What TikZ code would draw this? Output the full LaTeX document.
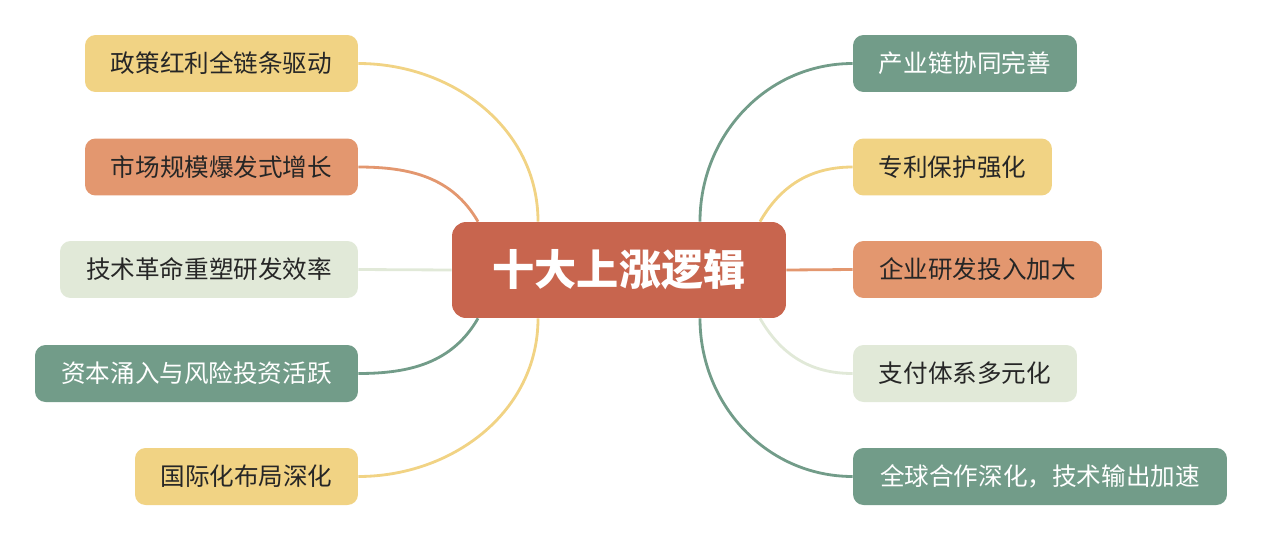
\documentclass[tikz,border=0pt]{standalone}
\usepackage{fontspec}
\setmainfont{Noto Sans CJK SC}
\definecolor{cyel}{HTML}{F1D384}
\definecolor{corg}{HTML}{E3976F}
\definecolor{cgrn}{HTML}{E1E9D8}
\definecolor{cteal}{HTML}{729C89}
\definecolor{cred}{HTML}{C8654E}
\tikzset{
  topic/.style={rounded corners=6pt,minimum height=1.14cm,font=\fontsize{14}{16}\selectfont,text=black!85,inner xsep=0pt},
  link/.style={line width=1.6pt}
}
\begin{document}
\begin{tikzpicture}[x=0.02cm,y=-0.02cm]
\useasboundingbox (0,0) rectangle (1263,541);

\node[fill=cred,rounded corners=8pt,minimum width=6.68cm,minimum height=1.92cm,
  text=white,font=\fontsize{24}{28}\selectfont\bfseries] (c) at (619,270) {十大上涨逻辑};

% left side
\node[topic,fill=cyel,minimum width=5.46cm] (l1) at (221.5,63.5) {政策红利全链条驱动};
\node[topic,fill=corg,minimum width=5.46cm] (l2) at (221.5,167) {市场规模爆发式增长};
\node[topic,fill=cgrn,minimum width=5.96cm] (l3) at (209,269.5) {技术革命重塑研发效率};
\node[topic,fill=cteal,minimum width=6.46cm,text=white] (l4) at (196.5,373.5) {资本涌入与风险投资活跃};
\node[topic,fill=cyel,minimum width=4.46cm] (l5) at (246.5,476.5) {国际化布局深化};

% right side
\node[topic,fill=cteal,minimum width=4.48cm,text=white] (r1) at (965,63.5) {产业链协同完善};
\node[topic,fill=cyel,minimum width=3.98cm] (r2) at (952.5,167) {专利保护强化};
\node[topic,fill=corg,minimum width=4.98cm] (r3) at (977.5,269.5) {企业研发投入加大};
\node[topic,fill=cgrn,minimum width=4.48cm] (r4) at (965,373.5) {支付体系多元化};
\node[topic,fill=cteal,minimum width=7.48cm,text=white] (r5) at (1040,476.5) {全球合作深化，技术输出加速};

\draw[link,cyel] (l1.east) to[out=0,in=90] ([xshift=-1.62cm]c.north);
\draw[link,corg] (l2.east) to[out=0,in=120] ([xshift=-2.82cm]c.north);
\draw[link,cgrn] (l3.east) -- (c.west);
\draw[link,cteal] (l4.east) to[out=0,in=-120] ([xshift=-2.82cm]c.south);
\draw[link,cyel] (l5.east) to[out=0,in=-90] ([xshift=-1.62cm]c.south);

\draw[link,cteal] (r1.west) to[out=180,in=90] ([xshift=1.62cm]c.north);
\draw[link,cyel] (r2.west) to[out=180,in=60] ([xshift=2.82cm]c.north);
\draw[link,corg] (r3.west) -- (c.east);
\draw[link,cgrn] (r4.west) to[out=180,in=-60] ([xshift=2.82cm]c.south);
\draw[link,cteal] (r5.west) to[out=180,in=-90] ([xshift=1.62cm]c.south);
\end{tikzpicture}
\end{document}
